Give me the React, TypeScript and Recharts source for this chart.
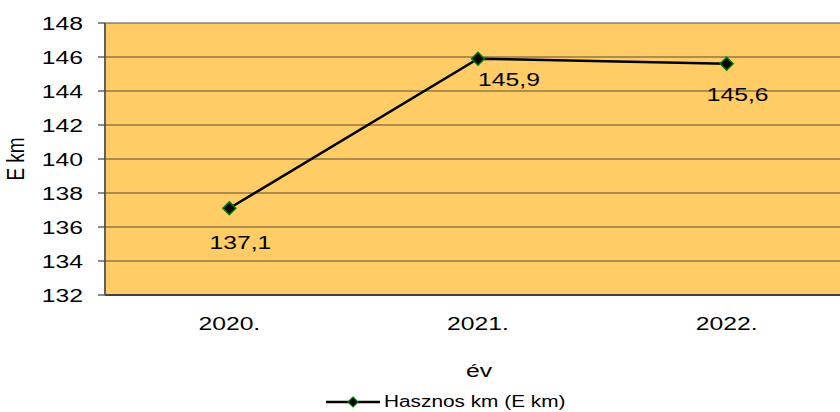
import { CartesianGrid, Label, LabelList, Legend, Line, LineChart, XAxis, YAxis } from 'recharts';

const years = ['2020.', '2021.', '2022.'];
const usefulKm = [137.1, 145.9, 145.6];
const yTicks = [132, 134, 136, 138, 140, 142, 144, 146, 148];

const chartData = years.map((year, i) => ({ year, km: usefulKm[i] }));

const FONT = '"Liberation Sans", Arial, sans-serif';
const STRETCH = 1.3;
const SIZE = 19;
// Excel placed the value labels by hand, so each gets its own nudge
const LABEL_NUDGE = [
  { dx: 11, dy: 41 },
  { dx: 31, dy: 27 },
  { dx: 11, dy: 37 },
];

const fmt = (v: number) => v.toFixed(1).replace('.', ',');

const StretchText = ({ x, y, anchor, size, children }: any) => (
  <text
    transform={`translate(${x},${y}) scale(${STRETCH},1)`}
    textAnchor={anchor}
    fontFamily={FONT}
    fontSize={size}
    fill="#000"
  >
    {children}
  </text>
);

const YTick = ({ x, y, payload }: any) => (
  <StretchText x={x} y={y + 7} anchor="end" size={SIZE}>
    {payload.value}
  </StretchText>
);

const XTick = ({ x, y, payload }: any) => (
  <StretchText x={x} y={y + 35} anchor="middle" size={SIZE}>
    {payload.value}
  </StretchText>
);

const Diamond = ({ cx, cy, half = 6.5, edge = 1.5 }: any) => (
  <path
    d={`M${cx},${cy - half} L${cx + half},${cy} L${cx},${cy + half} L${cx - half},${cy} Z`}
    fill="#000"
    stroke="#008000"
    strokeWidth={edge}
  />
);

const ValueLabel = ({ x, y, value, index }: any) => {
  const n = LABEL_NUDGE[index] ?? { dx: 0, dy: 30 };
  return (
    <StretchText x={x + n.dx} y={y + n.dy} anchor="middle" size={SIZE}>
      {fmt(Number(value))}
    </StretchText>
  );
};

const LegendBox = () => (
  <div style={{ display: 'flex', alignItems: 'center', fontFamily: FONT, fontSize: 16, color: '#000' }}>
    <svg width={54} height={14} style={{ display: 'block' }}>
      <line x1={0} y1={7} x2={54} y2={7} stroke="#000" strokeWidth={2.5} />
      <Diamond cx={27} cy={7} half={5} edge={1.2} />
    </svg>
    <span style={{ marginLeft: 4, display: 'inline-block', transform: `scaleX(${STRETCH})`, transformOrigin: 'left center', whiteSpace: 'nowrap' }}>
      Hasznos km (E km)
    </span>
  </div>
);

export default function App() {
  return (
    <div style={{ position: 'fixed', left: 0, top: 0, width: 840, height: 412, overflow: 'hidden', background: '#fff' }}>
      <LineChart width={860} height={412} data={chartData} margin={{ top: 23, right: 9, left: 0, bottom: 0 }}>
        <CartesianGrid fill="#FFCC66" stroke="#5c4e36" strokeWidth={1.2} vertical={false} />
        <XAxis
          dataKey="year"
          scale="band"
          tickLine={false}
          tickSize={0}
          tickMargin={0}
          axisLine={{ stroke: '#404040', strokeWidth: 2 }}
          tick={<XTick />}
          height={99}
        >
          <Label
            content={() => (
              <StretchText x={479} y={377} anchor="middle" size={SIZE}>
                év
              </StretchText>
            )}
          />
        </XAxis>
        <YAxis
          domain={[132, 148]}
          ticks={yTicks}
          interval={0}
          width={105}
          tickSize={7}
          tickMargin={15}
          tickLine={{ stroke: '#404040', strokeWidth: 1.2 }}
          axisLine={{ stroke: '#606060', strokeWidth: 2 }}
          tick={<YTick />}
        >
          <Label
            content={() => (
              <text
                transform={`translate(24,159) scale(${STRETCH},1) rotate(-90)`}
                textAnchor="middle"
                fontFamily={FONT}
                fontSize={SIZE}
                fill="#000"
              >
                E km
              </text>
            )}
          />
        </YAxis>
        <Legend
          content={<LegendBox />}
          wrapperStyle={{ position: 'absolute', left: 326, top: 393, width: 'auto' }}
        />
        <Line
          type="linear"
          dataKey="km"
          stroke="#000"
          strokeWidth={2.5}
          dot={<Diamond />}
          activeDot={false}
          isAnimationActive={false}
        >
          <LabelList dataKey="km" content={<ValueLabel />} />
        </Line>
      </LineChart>
    </div>
  );
}
